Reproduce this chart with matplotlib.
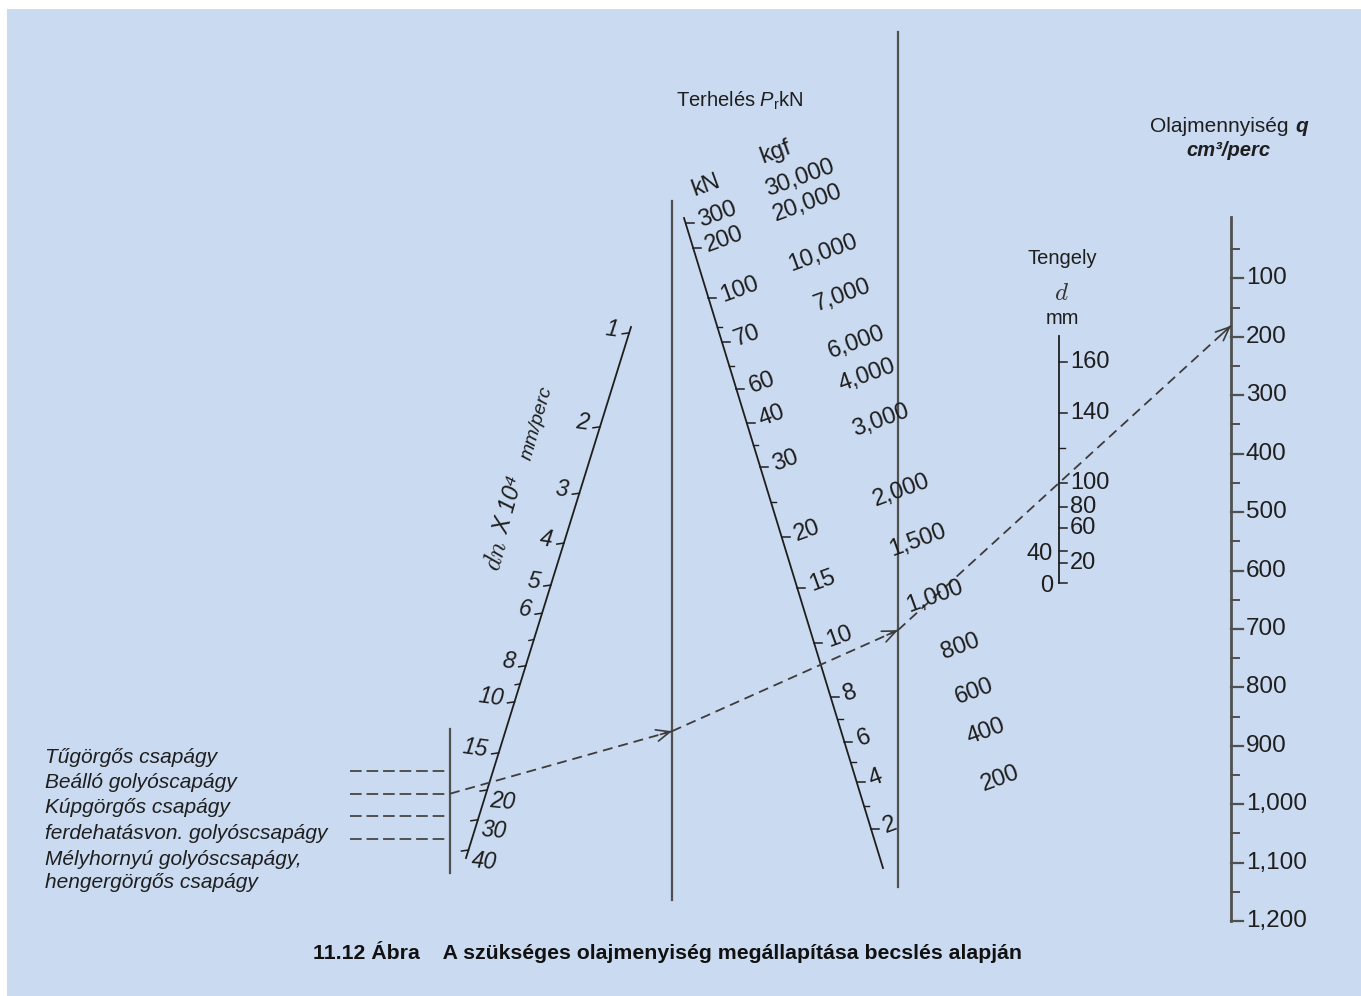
import numpy as np
import matplotlib.pyplot as plt
from matplotlib.patches import Rectangle

plt.rcParams['font.family'] = ['Liberation Sans', 'DejaVu Sans']
plt.rcParams['mathtext.fontset'] = 'custom'
plt.rcParams['mathtext.rm'] = 'Liberation Sans'
plt.rcParams['mathtext.it'] = 'Liberation Sans:italic'

# --- scale data -------------------------------------------------------------
# dn x 10^4 scale (mm/perc): labelled values and graduation (0 = top, 1 = bottom)
dn_values = [1, 2, 3, 4, 5, 6, 8, 10, 15, 20, 30, 40]
dn_grad = [0.011, 0.188, 0.313, 0.407, 0.486, 0.539, 0.638, 0.706, 0.802, 0.872, 0.928, 0.985]
dn_minor = [7, 9]

# load scale P_r in kN (kgf = kN * 100)
load_kn = [300, 200, 100, 70, 60, 40, 30, 20, 15, 10, 8, 6, 4, 2]
load_grad = [0.008, 0.046, 0.123, 0.191, 0.263, 0.315, 0.383, 0.491, 0.569, 0.654,
             0.737, 0.806, 0.868, 0.940]
load_minor = [80, 65, 35, 25, 7, 5, 3]

# shaft diameter d in mm (graduation from bottom)
shaft_d = [0, 20, 40, 60, 80, 100, 140, 160]
shaft_grad = [0.0, 0.081, 0.130, 0.223, 0.308, 0.405, 0.688, 0.895]
shaft_minor = [120]
shaft_left = [0, 40]

# oil quantity q in cm3/perc (linear)
q_max = 1200
q_major = list(range(100, 1300, 100))
q_minor = list(range(50, 1200, 100))

bearing_types = ['Tűgörgős csapágy', 'Beálló golyóscapágy', 'Kúpgörgős csapágy',
                 'ferdehatásvon. golyóscsapágy',
                 'Mélyhornyú golyóscsapágy,\nhengergörgős csapágy']

# worked example drawn on the chart
ex_bearing = 1
ex_dn = 19
ex_load = 9.2
ex_d = 100

# --- layout ----------------------------------------------------------------
BG = '#cadaf0'
INK = '#1e1e1e'
GREY = '#505050'
DN_A, DN_B = (631, 327), (466, 858)
P_A, P_B = (684, 218), (883, 868)
IDX1_X, IDX1_Y = 672, (201, 900)
IDX2_X, IDX2_Y = 898, (32, 887)
BRG_X, BRG_Y = 450, (729, 873)
D_X, D_BOT, D_TOP = 1059, 583, 336
Q_X, Q_Y0, Q_Y1, Q_END = 1231, 220, 921, 217


def on_line(a, b, f):
    return a[0] + f * (b[0] - a[0]), a[1] + f * (b[1] - a[1])


def grad_of(v, values, grads):
    order = np.argsort(values)
    return np.interp(v, np.asarray(values)[order], np.asarray(grads)[order])


def dn_pt(v):
    return on_line(DN_A, DN_B, grad_of(v, dn_values, dn_grad))


def load_pt(v):
    return on_line(P_A, P_B, grad_of(v, load_kn, load_grad))


def shaft_pt(v):
    f = grad_of(v, shaft_d, shaft_grad)
    return D_X, D_BOT + f * (D_TOP - D_BOT)


def q_y(v):
    return Q_Y0 + v / q_max * (Q_Y1 - Q_Y0)


def extend_to_x(a, b, x):
    return x, a[1] + (b[1] - a[1]) * (x - a[0]) / (b[0] - a[0])


fig = plt.figure(figsize=(13.61, 9.96), dpi=100, facecolor='white')
ax = fig.add_axes([0, 0, 1, 1])
ax.set_xlim(0, 1361)
ax.set_ylim(996, 0)
ax.axis('off')
ax.add_patch(Rectangle((7, 9), 1361, 996, facecolor=BG, edgecolor='none', zorder=0))

# index lines and bearing-type line
ax.plot([IDX1_X, IDX1_X], IDX1_Y, color=GREY, lw=1.6)
ax.plot([IDX2_X, IDX2_X], IDX2_Y, color=GREY, lw=1.6)
ax.plot([BRG_X, BRG_X], BRG_Y, color=GREY, lw=1.6)

# bearing types (last one takes two rows)
row_h = 25.4
for i, name in enumerate(bearing_types):
    y = 757 + row_h * i + (row_h / 2 if '\n' in name else 0)
    ax.text(45, y, name, fontsize=15, style='italic', color=INK,
            va='center', linespacing=1.27)
bearing_y = [771 + 22.7 * i for i in range(4)]
for y in bearing_y:
    ax.plot([350, BRG_X], [y, y], color=GREY, lw=1.4, ls=(0, (6, 2.5)))

# dn scale
ax.plot([DN_A[0], DN_B[0]], [DN_A[1], DN_B[1]], color=INK, lw=1.3)
for v in dn_values:
    x, y = dn_pt(v)
    ax.plot([x - 7, x], [y + 1, y], color=INK, lw=1.1)
    if v <= 15:
        ax.text(x - 11, y - 3, str(v), fontsize=16.5, style='italic', color=INK,
                ha='right', va='center', rotation=-8, rotation_mode='anchor')
    else:
        ax.text(x + 3, y + 10, str(v), fontsize=16.5, style='italic', color=INK,
                ha='left', va='center', rotation=-5, rotation_mode='anchor')
for v in dn_minor:
    x, y = dn_pt(v)
    ax.plot([x - 5, x], [y + 1, y], color=INK, lw=1.0)
ax.text(497, 556, '$dn$', math_fontfamily='cm', fontsize=19, color=INK,
        rotation=74, ha='center', va='center')
ax.text(509, 505, 'X 10⁴', fontsize=17, style='italic', color=INK,
        rotation=74, ha='center', va='center')
ax.text(537, 423, 'mm/perc', fontsize=14, style='italic', color=INK,
        rotation=74, ha='center', va='center')

# load scale
ax.plot([P_A[0], P_B[0]], [P_A[1], P_B[1]], color=INK, lw=1.3)
for v in load_kn:
    x, y = load_pt(v)
    ax.plot([x, x + 8], [y, y], color=INK, lw=1.1)
    ax.text(x + 13, y - 2, str(v), fontsize=17, color=INK, ha='left', va='center',
            rotation=20, rotation_mode='anchor')
    ax.text(x + 148, y - 57, f'{v * 100:,}', fontsize=17, color=INK, ha='right',
            va='center', rotation=20, rotation_mode='anchor')
for v in load_minor:
    x, y = load_pt(v)
    ax.plot([x, x + 5], [y, y], color=INK, lw=1.0)
ax.text(706, 185, 'kN', fontsize=17, color=INK, ha='center', va='center', rotation=20)
ax.text(776, 152, 'kgf', fontsize=17, color=INK, ha='center', va='center', rotation=20)
ax.text(740, 101, 'Terhelés $P_\\mathrm{r}$kN', fontsize=14.5, color=INK,
        ha='center', va='center')

# shaft scale
ax.plot([D_X, D_X], [D_BOT, D_TOP], color=INK, lw=1.3)
for v in shaft_d:
    x, y = shaft_pt(v)
    ax.plot([x, x + 8], [y, y], color=INK, lw=1.1)
    if v in shaft_left:
        ax.text(x - 6, y + 3, str(v), fontsize=17, color=INK, ha='right', va='center')
    else:
        ax.text(x + 11, y, str(v), fontsize=17, color=INK, ha='left', va='center')
for v in shaft_minor:
    x, y = shaft_pt(v)
    ax.plot([x, x + 6], [y, y], color=INK, lw=1.0)
ax.text(1062, 258, 'Tengely', fontsize=14.5, color=INK, ha='center', va='center')
ax.text(1062, 293, '$d$', math_fontfamily='cm', fontsize=18, color='#333333',
        ha='center', va='center')
ax.text(1062, 318, 'mm', fontsize=14.5, color=INK, ha='center', va='center')

# oil quantity scale
ax.plot([Q_X, Q_X], [Q_END, Q_Y1], color=GREY, lw=2.0)
for v in q_major:
    y = q_y(v)
    ax.plot([Q_X, Q_X + 12], [y, y], color=GREY, lw=1.6)
    ax.text(Q_X + 15, y, f'{v:,}', fontsize=17.5, color=INK, ha='left', va='center')
for v in q_minor:
    y = q_y(v)
    ax.plot([Q_X, Q_X + 8], [y, y], color=GREY, lw=1.4)
ax.text(1289, 126, 'Olajmennyiség', fontsize=15, color=INK, ha='right', va='center')
ax.text(1295, 126, 'q', fontsize=15, color=INK, ha='left', va='center',
        weight='bold', style='italic')
ax.text(1228, 150, 'cm³/perc', fontsize=14.5, color=INK, ha='center', va='center',
        weight='bold', style='italic')

# worked example: bearing type -> dn -> index 1 -> load -> index 2 -> d -> q
p_a = (BRG_X, bearing_y[ex_bearing])
p_c = extend_to_x(p_a, dn_pt(ex_dn), IDX1_X)
p_e = extend_to_x(p_c, load_pt(ex_load), IDX2_X)
p_g = extend_to_x(p_e, shaft_pt(ex_d), Q_X)
dash = (0, (5.5, 3.3))
for s, t in [(p_a, p_c), (p_c, p_e), (p_e, p_g)]:
    ax.plot([s[0], t[0]], [s[1], t[1]], color='#3c3c3c', lw=1.3, ls=dash)
    d = np.subtract(t, s)
    d = d / np.hypot(*d)
    ax.annotate('', xy=t, xytext=(t[0] - 12 * d[0], t[1] - 12 * d[1]),
                arrowprops=dict(arrowstyle='->,head_length=0.7,head_width=0.3',
                                color='#3c3c3c', lw=1.2, shrinkA=0, shrinkB=0,
                                mutation_scale=14))

ax.text(668, 952, '11.12 Ábra    A szükséges olajmenyiség megállapítása becslés alapján',
        fontsize=15.3, weight='bold', color='#111111', ha='center', va='center')

fig.savefig('out.png', dpi=100, facecolor='white')
